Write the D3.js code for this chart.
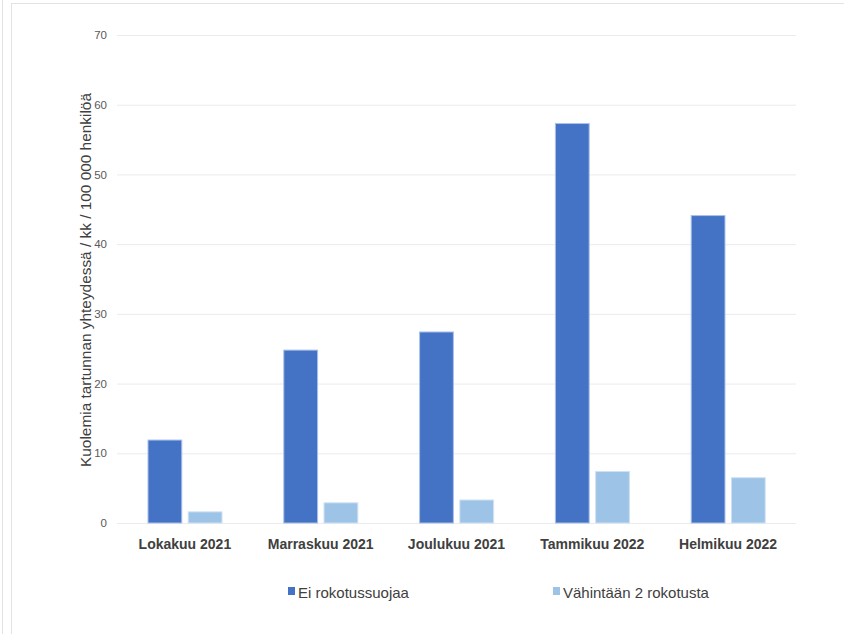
<!DOCTYPE html>
<html><head><meta charset="utf-8">
<script src="https://cdn.jsdelivr.net/npm/d3@7"></script>
<style>html,body{margin:0;padding:0;background:#fff;}svg{display:block;font-family:"Liberation Sans",Arial,sans-serif;}</style>
</head><body>
<script>
const categories = ["Lokakuu 2021","Marraskuu 2021","Joulukuu 2021","Tammikuu 2022","Helmikuu 2022"];
const seriesNames = ["Ei rokotussuojaa","Vähintään 2 rokotusta"];
const unvaccinated = [11.9, 24.8, 27.4, 57.3, 44.1];
const vaccinated2 = [1.6, 2.9, 3.3, 7.4, 6.5];
const yTicks = [0,10,20,30,40,50,60,70];
const colors = ["#4472C4","#9DC3E6"];

(function(){
const W=844,H=634;
const svg=d3.select("body").append("svg").attr("width",W).attr("height",H);
// frame lines
svg.append("line").attr("x1",2.5).attr("x2",2.5).attr("y1",0).attr("y2",H).attr("stroke","#e3e3e3");
svg.append("line").attr("x1",11.5).attr("x2",11.5).attr("y1",3).attr("y2",H).attr("stroke","#e3e3e3");
svg.append("line").attr("x1",11).attr("x2",W).attr("y1",3.5).attr("y2",3.5).attr("stroke","#e3e3e3");

const mL=117,mR=796,mT=35,mB=523;
const y=d3.scaleLinear().domain([0,70]).range([mB,mT]);
const x0=d3.scaleBand().domain(categories).range([mL,mR]).paddingInner(0).paddingOuter(0);
const x1=d3.scaleBand().domain(seriesNames).range([31,105]).paddingInner(0.16);

const yAxis=svg.append("g").attr("transform",`translate(${mL},0)`)
  .call(d3.axisLeft(y).tickValues(yTicks).tickSize(-(mR-mL)).tickPadding(10));
yAxis.select(".domain").remove();
yAxis.selectAll(".tick line").attr("stroke","#ebebeb").attr("stroke-width",1);
yAxis.selectAll(".tick text").attr("fill","#595959").attr("font-size","11.5px");

const data=categories.map((c,i)=>({c,vals:[unvaccinated[i],vaccinated2[i]]}));
const g=svg.append("g");
const grp=g.selectAll("g").data(data).join("g").attr("transform",d=>`translate(${x0(d.c)},0)`);
grp.selectAll("rect").data(d=>d.vals.map((v,j)=>({v,j}))).join("rect")
  .attr("x",d=>x1(seriesNames[d.j]))
  .attr("width",x1.bandwidth())
  .attr("y",d=>y(d.v))
  .attr("height",d=>y(0)-y(d.v))
  .attr("fill",d=>colors[d.j])
  .attr("stroke",d=>d.j===0?"#a9c0ea":"#cfe2f5").attr("stroke-width",1);

svg.append("g").selectAll("text").data(categories).join("text")
  .attr("x",d=>x0(d)+x0.bandwidth()/2).attr("y",549)
  .attr("text-anchor","middle").attr("font-size","14px").attr("font-weight","bold").attr("fill","#404040")
  .text(d=>d);

svg.append("text").attr("transform","translate(91,280) rotate(-90)")
  .attr("text-anchor","middle").attr("font-size","15.4px").attr("fill","#404040")
  .text("Kuolemia tartunnan yhteydessä / kk / 100 000 henkilöä");

const legX=[288,553];
const leg=svg.append("g").selectAll("g").data(seriesNames).join("g")
  .attr("transform",(d,i)=>`translate(${legX[i]},592)`);
leg.append("rect").attr("x",0).attr("y",-5).attr("width",7).attr("height",8).attr("fill",(d,i)=>colors[i]);
leg.append("text").attr("x",10).attr("y",5.5).attr("font-size","15px").attr("fill","#404040").text(d=>d);
})();
</script>
</body></html>
